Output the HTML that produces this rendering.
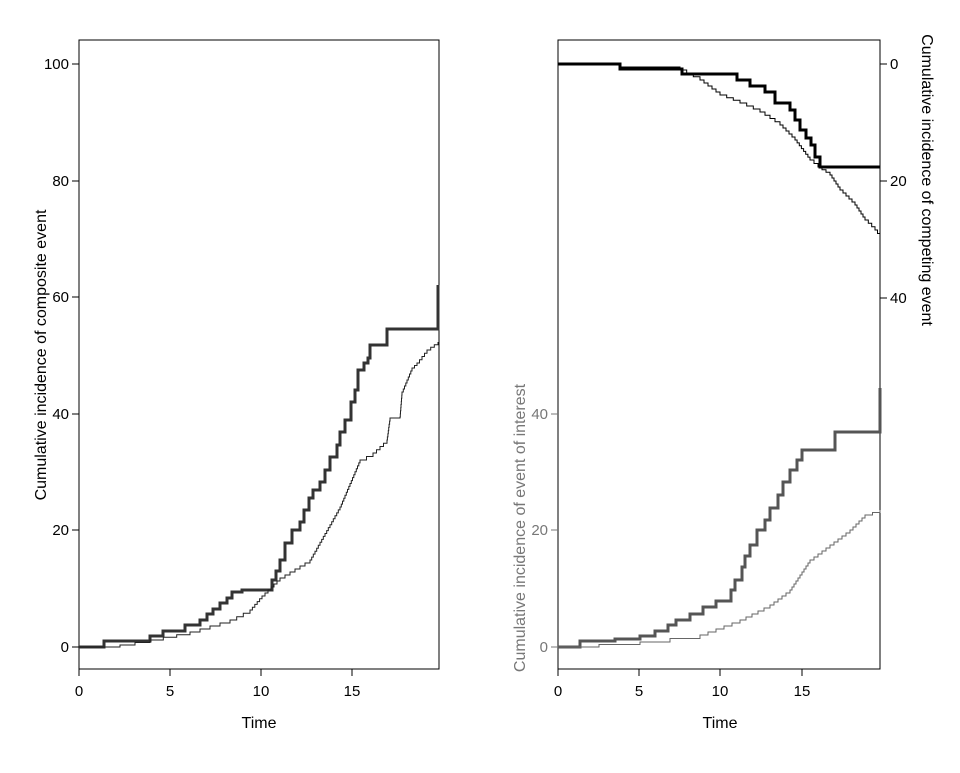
<!DOCTYPE html>
<html><head><style>body{margin:0;background:#fff}</style></head><body>
<svg id="s" width="960" height="768" xmlns="http://www.w3.org/2000/svg" font-family="Liberation Sans, sans-serif" font-size="15">
<rect x="79" y="40" width="360" height="629" fill="none" stroke="#000"/>
<rect x="558" y="40" width="322" height="629" fill="none" stroke="#000"/>
<g stroke="#000">
<line x1="79" y1="669" x2="79" y2="676"/><line x1="170" y1="669" x2="170" y2="676"/><line x1="261" y1="669" x2="261" y2="676"/><line x1="352" y1="669" x2="352" y2="676"/>
<line x1="72" y1="647" x2="79" y2="647"/><line x1="72" y1="530" x2="79" y2="530"/><line x1="72" y1="414" x2="79" y2="414"/><line x1="72" y1="297" x2="79" y2="297"/><line x1="72" y1="181" x2="79" y2="181"/><line x1="72" y1="64" x2="79" y2="64"/>
<line x1="558" y1="669" x2="558" y2="676"/><line x1="639" y1="669" x2="639" y2="676"/><line x1="720" y1="669" x2="720" y2="676"/><line x1="802" y1="669" x2="802" y2="676"/>
<line x1="880" y1="64" x2="887" y2="64"/><line x1="880" y1="181" x2="887" y2="181"/><line x1="880" y1="298" x2="887" y2="298"/>
</g>
<g stroke="#777"><line x1="551" y1="647" x2="558" y2="647"/><line x1="551" y1="530" x2="558" y2="530"/><line x1="551" y1="414" x2="558" y2="414"/></g>
<g text-anchor="middle">
<text x="79" y="696">0</text><text x="170" y="696">5</text><text x="261" y="696">10</text><text x="352" y="696">15</text>
<text x="558" y="696">0</text><text x="639" y="696">5</text><text x="720" y="696">10</text><text x="802" y="696">15</text>
<text x="259" y="728" font-size="16">Time</text><text x="720" y="728" font-size="16">Time</text>
</g>
<g text-anchor="end">
<text x="69" y="652">0</text><text x="69" y="535">20</text><text x="69" y="419">40</text><text x="69" y="302">60</text><text x="69" y="186">80</text><text x="69" y="69">100</text>
</g>
<g text-anchor="end" fill="#777"><text x="548" y="652">0</text><text x="548" y="535">20</text><text x="548" y="419">40</text></g>
<g><text x="890" y="69">0</text><text x="890" y="186">20</text><text x="890" y="303">40</text></g>
<g font-size="16">
<text transform="translate(46,355) rotate(-90)" text-anchor="middle">Cumulative incidence of composite event</text>
<text transform="translate(525,528) rotate(-90)" text-anchor="middle" fill="#777">Cumulative incidence of event of interest</text>
<text transform="translate(922,180) rotate(90)" text-anchor="middle">Cumulative incidence of competing event</text>
</g>
<g fill="none" stroke-linejoin="miter">
<path stroke="#333" stroke-width="3" d="M79,647 H104 V641 H150 V636 H163 V631 H185 V625 H200 V620 H207 V614 H213 V609 H220 V603 H227 V598 H232 V592 H242 V590 H272 V580 H276 V571 H280 V560 H285 V543 H292 V530 H300 V522 H304 V510 H309 V498 H313 V490 H320 V482 H325 V470 H330 V457 H337 V445 H340 V432 H345 V420 H351 V402 H355 V390 H358 V370 H364 V363 H368 V358 H370 V345 H387 V329 H438 V285"/>
<path stroke="#555" stroke-width="3" d="M558,647 H580 V641 H615 V639 H640 V636 H655 V631 H668 V625 H676 V620 H690 V614 H703 V607 H716 V601 H731 V590 H735 V580 H742 V567 H745 V556 H750 V545 H757 V530 H765 V520 H770 V508 H778 V495 H783 V482 H790 V470 H797 V460 H802 V450 H807 V450 H835 V432 H880 V388"/>
<path stroke="#000" stroke-width="3" d="M558,64 H620 V69 H682 V74 H737 V80 H750 V86 H765 V92 H775 V103 H790 V110 H795 V120 H800 V130 H806 V138 H811 V145 H815 V157 H820 V167 H880"/>
<path id="t1" stroke="#222" stroke-width="1"/>
<path id="t2" stroke="#666" stroke-width="1"/>
<path id="t3" stroke="#000" stroke-width="1"/>
</g>
</svg>
<script>
function st(pts,n){var d="M"+pts[0][0]+","+pts[0][1];
for(var i=1;i<pts.length;i++){var a=pts[i-1],b=pts[i];var k=Math.max(1,Math.round(Math.abs(b[1]-a[1])/n));
for(var j=1;j<=k;j++){var x=a[0]+(b[0]-a[0])*j/k,y=a[1]+(b[1]-a[1])*j/k;d+=" H"+x.toFixed(1)+" V"+y.toFixed(1);}}return d;}
document.getElementById("t1").setAttribute("d",st([[79,647],[120,645],[150,640],[190,632],[230,620],[250,610],[262,596],[280,578],[310,560],[340,507],[360,460],[373,453],[387,440],[390,418],[400,417],[402,392],[412,368],[417,363],[427,350],[438,342]],3));
document.getElementById("t2").setAttribute("d",st([[558,647],[640,642],[700,635],[740,620],[770,605],[790,590],[800,575],[810,560],[830,545],[850,530],[865,515],[880,510]],3));
document.getElementById("t3").setAttribute("d",st([[558,64],[620,67],[680,70],[700,80],[720,95],[740,103],[760,112],[780,125],[795,140],[810,160],[818,167],[830,175],[840,190],[855,205],[865,220],[875,230],[880,237]],3));
</script>
</body></html>
